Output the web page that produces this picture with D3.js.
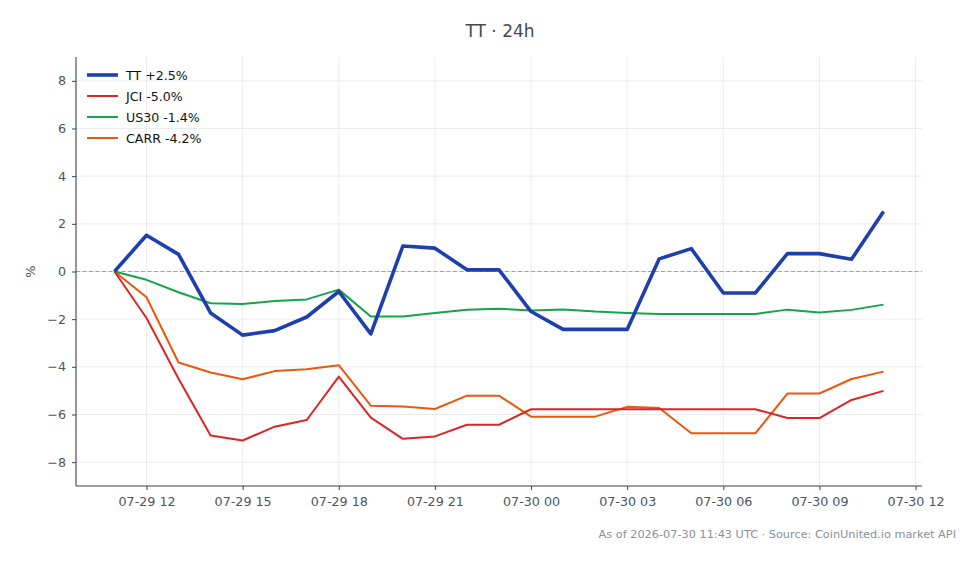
<!DOCTYPE html>
<html>
<head>
<meta charset="utf-8">
<script src="https://cdn.jsdelivr.net/npm/d3@7"></script>
<style>
  body { margin: 0; background: #fff; }
  svg { font-family: "DejaVu Sans", sans-serif; }
</style>
</head>
<body>
<svg width="980" height="564"></svg>
<script>
// hourly points, 07-29 11:00 UTC .. 07-30 11:00 UTC
var startTime = "2026-07-29T11:00:00Z";
var tt   = [0, 1.52, 0.72, -1.74, -2.67, -2.48, -1.91, -0.84, -2.62, 1.07, 0.98, 0.07, 0.07, -1.68, -2.43, -2.43, -2.43, 0.53, 0.96, -0.9, -0.9, 0.75, 0.75, 0.51, 2.52];
var jci  = [0, -1.95, -4.5, -6.88, -7.09, -6.51, -6.23, -4.41, -6.13, -7.02, -6.92, -6.43, -6.43, -5.78, -5.78, -5.78, -5.78, -5.78, -5.78, -5.78, -5.78, -6.15, -6.15, -5.39, -5.01];
var us30 = [0, -0.35, -0.87, -1.33, -1.36, -1.24, -1.17, -0.76, -1.89, -1.89, -1.74, -1.6, -1.56, -1.64, -1.59, -1.68, -1.74, -1.78, -1.78, -1.78, -1.78, -1.6, -1.72, -1.61, -1.39];
var carr = [0, -1.08, -3.82, -4.24, -4.52, -4.18, -4.1, -3.93, -5.63, -5.66, -5.77, -5.21, -5.21, -6.09, -6.09, -6.09, -5.68, -5.73, -6.79, -6.79, -6.79, -5.12, -5.12, -4.51, -4.2];
var seriesNames = ["TT", "JCI", "US30", "CARR"];
var seriesColors = ["#1e40af", "#dc2626", "#16a34a", "#ea580c"];
var seriesWidths = [3.6, 2, 2, 2];
var yTicks = [-8, -6, -4, -2, 0, 2, 4, 6, 8];

var svg = d3.select("svg");
var plotLeft = 76, plotRight = 922, plotTop = 57, plotBottom = 486;

var t0 = new Date(startTime);
var times = tt.map(function(d, i) { return new Date(t0.getTime() + i * 3600000); });
var span = times[times.length - 1] - times[0];
var pad = span * 0.05;

var x = d3.scaleUtc()
    .domain([new Date(times[0].getTime() - pad), new Date(times[times.length - 1].getTime() + pad)])
    .range([plotLeft, plotRight]);
var y = d3.scaleLinear().domain([-9, 9]).range([plotBottom, plotTop]);

var xTicks = x.ticks(d3.utcHour.every(3));

// grid
svg.append("g").selectAll("line").data(xTicks).enter().append("line")
    .attr("x1", function(d) { return x(d); }).attr("x2", function(d) { return x(d); })
    .attr("y1", plotTop).attr("y2", plotBottom)
    .attr("stroke", "#e5e7eb").attr("stroke-width", 0.8);
svg.append("g").selectAll("line").data(yTicks).enter().append("line")
    .attr("x1", plotLeft).attr("x2", plotRight)
    .attr("y1", function(d) { return y(d); }).attr("y2", function(d) { return y(d); })
    .attr("stroke", "#e5e7eb").attr("stroke-width", 0.8);

// zero line
svg.append("line")
    .attr("x1", plotLeft).attr("x2", plotRight)
    .attr("y1", y(0)).attr("y2", y(0))
    .attr("stroke", "#94a3b8").attr("stroke-width", 1.1)
    .attr("stroke-dasharray", "4,2.5");

// axes
var xAxis = svg.append("g")
    .attr("transform", "translate(0," + plotBottom + ")")
    .call(d3.axisBottom(x).tickValues(xTicks).tickSize(4).tickPadding(7).tickFormat(d3.utcFormat("%m-%d %H")));
var yAxis = svg.append("g")
    .attr("transform", "translate(" + plotLeft + ",0)")
    .call(d3.axisLeft(y).tickValues(yTicks).tickSize(4).tickPadding(6));

[xAxis, yAxis].forEach(function(a) {
    a.select(".domain").attr("stroke", "#374151").attr("stroke-width", 1.1);
    a.selectAll(".tick line").attr("stroke", "#374151");
    a.selectAll(".tick text").attr("fill", "#4b5563").style("font-size", "12.7px").style("font-family", "DejaVu Sans");
});
xAxis.select(".domain").attr("d", "M" + plotLeft + ",0H" + plotRight);
yAxis.select(".domain").attr("d", "M0," + plotTop + "V" + plotBottom);

// lines
var allSeries = [tt, jci, us30, carr];
var line = d3.line()
    .x(function(d, i) { return x(times[i]); })
    .y(function(d) { return y(d); });

for (var k = allSeries.length - 1; k >= 0; k--) {
    svg.append("path")
        .datum(allSeries[k])
        .attr("d", line)
        .attr("fill", "none")
        .attr("stroke", seriesColors[k])
        .attr("stroke-width", seriesWidths[k])
        .attr("stroke-linejoin", "round");
}

// legend
var fmt = d3.format("+.1f");
var legend = svg.append("g").attr("transform", "translate(87,75)");
seriesNames.forEach(function(name, k) {
    var s = allSeries[k];
    var last = s[s.length - 1];
    var row = legend.append("g").attr("transform", "translate(0," + (k * 21) + ")");
    row.append("line").attr("x1", 0).attr("x2", 31).attr("y1", 0).attr("y2", 0)
        .attr("stroke", seriesColors[k]).attr("stroke-width", seriesWidths[k]);
    row.append("text").attr("x", 39).attr("y", 4.5)
        .style("font-size", "12.6px").attr("fill", "#111")
        .text(name + " " + fmt(last).replace("\u2212", "-") + "%");
});

// title & labels
svg.append("text")
    .attr("x", 500).attr("y", 37)
    .attr("text-anchor", "middle")
    .style("font-size", "17px").attr("fill", "#3f4a5a")
    .text("TT · 24h");

svg.append("text")
    .attr("transform", "translate(35," + y(0) + ") rotate(-90)")
    .attr("text-anchor", "middle")
    .style("font-size", "13px").attr("fill", "#4b5563")
    .text("%");

svg.append("text")
    .attr("x", 956).attr("y", 538)
    .attr("text-anchor", "end")
    .style("font-size", "11.3px").attr("fill", "#8a8f98")
    .text("As of 2026-07-30 11:43 UTC · Source: CoinUnited.io market API");
</script>
</body>
</html>
